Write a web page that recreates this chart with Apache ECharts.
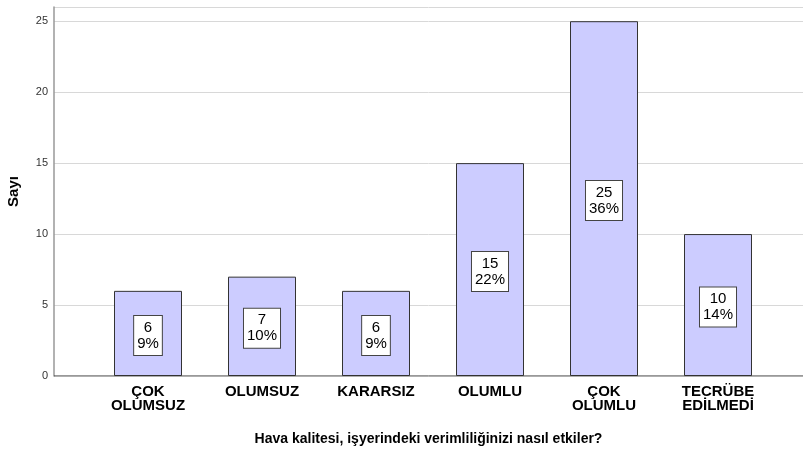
<!DOCTYPE html>
<html><head><meta charset="utf-8">
<script src="https://cdn.jsdelivr.net/npm/echarts@6/dist/echarts.min.js"></script>
<style>html,body{margin:0;padding:0;background:#fff}#c{width:804px;height:450px}</style>
</head><body><div id="c"></div>
<script>
const categories = ['ÇOK\nOLUMSUZ', 'OLUMSUZ', 'KARARSIZ', 'OLUMLU', 'ÇOK\nOLUMLU', 'TECRÜBE\nEDİLMEDİ'];
const counts = [6, 7, 6, 15, 25, 10];
const percents = ['9%', '10%', '9%', '22%', '36%', '14%'];
const yTicks = [0, 5, 10, 15, 20, 25];
const xTitle = 'Hava kalitesi, işyerindeki verimliliğinizi nasıl etkiler?';
const yTitle = 'Sayı';

const FONT = 'Arial, "Liberation Sans", sans-serif';
const chart = echarts.init(document.getElementById('c'));
chart.setOption({
  animation: false,
  grid: [
    {left: 54, right: 1, top: 7, bottom: 74, outerBoundsMode: 'none', containLabel: false},
    {left: 91, right: 29, top: 7, bottom: 74, outerBoundsMode: 'none', containLabel: false}
  ],
  xAxis: [
    {gridIndex: 0, type: 'value', min: 0, max: 1, show: true,
     axisLine: {show: false}, axisTick: {show: false}, axisLabel: {show: false}, splitLine: {show: false},
     name: xTitle, nameLocation: 'middle', nameGap: 56,
     nameTextStyle: {fontFamily: FONT, fontWeight: 'bold', fontSize: 14, color: '#000'}},
    {gridIndex: 1, type: 'category', data: categories,
     axisLine: {show: false}, axisTick: {show: false},
     axisLabel: {interval: 0, fontFamily: FONT, fontWeight: 'bold', fontSize: 15, color: '#000', lineHeight: 14, margin: 9}}
  ],
  yAxis: [
    {gridIndex: 0, type: 'value', min: 0, max: 26, interval: 5,
     axisLine: {show: true, onZero: false, lineStyle: {color: '#999', width: 1.5}},
     axisTick: {show: false},
     axisLabel: {fontFamily: FONT, fontSize: 11, color: '#333', margin: 6,
       formatter: v => yTicks.includes(v) ? String(v) : ''},
     splitLine: {show: true, lineStyle: {color: '#d8d8d8', width: 1}},
     name: yTitle, nameLocation: 'middle', nameGap: 33, nameRotate: 90,
     nameTextStyle: {fontFamily: FONT, fontWeight: 'bold', fontSize: 15, color: '#000'}},
    {gridIndex: 1, type: 'value', min: 0, max: 26, show: false}
  ],
  series: [
    {type: 'line', xAxisIndex: 0, yAxisIndex: 0, data: [[0, 0], [1, 0]], symbol: 'none',
     lineStyle: {color: '#333', width: 1}, silent: true, z: 5},
    {type: 'bar', xAxisIndex: 1, yAxisIndex: 1, data: counts, barWidth: 68,
     itemStyle: {color: '#ccccff', borderColor: '#333', borderWidth: 1},
     label: {show: true, position: 'inside', offset: [0, 2],
       formatter: p => p.value + '\n' + percents[p.dataIndex],
       fontFamily: FONT, fontWeight: 'normal', fontSize: 15, color: '#000', lineHeight: 16,
       backgroundColor: '#fff', borderColor: '#444', borderWidth: 1, padding: [4, 3, 3, 3], align: 'center'}}
  ]
});
</script></body></html>
